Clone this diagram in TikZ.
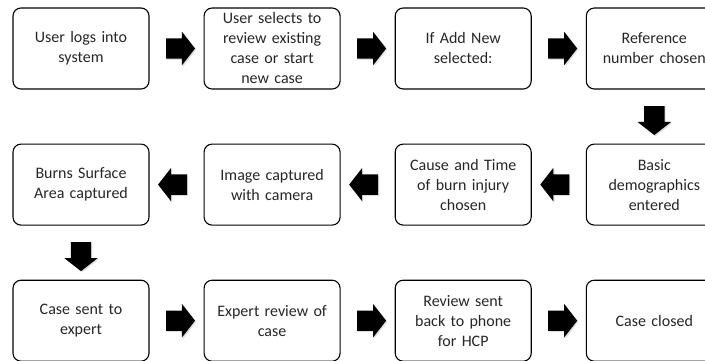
\documentclass[tikz,border=0pt]{standalone}
\usepackage{fontspec}
\setmainfont{Carlito}
\usetikzlibrary{positioning}
\usetikzlibrary{calc}
\usetikzlibrary{shapes.arrows,shadows}

\begin{document}
\begin{tikzpicture}[x=1pt,y=1pt,node distance=54pt,
  stepbox/.style={draw, line width=1.1pt, rounded corners=8pt, minimum width=136pt, minimum height=81pt, text width=132pt, align=center, inner sep=0pt, font=\boxfont},
  blockarrow/.style={single arrow, fill=black, draw=none, minimum height=29pt, minimum width=33pt, single arrow head extend=6.5pt, single arrow tip angle=104, inner xsep=0pt, inner ysep=10pt, drop shadow={shadow xshift=1.2pt, shadow yshift=-1.2pt, opacity=0.25}},
  downarrow/.style={blockarrow, shape border rotate=270, inner xsep=10pt, inner ysep=0pt}]

\def\boxfont{\fontsize{16}{20}\selectfont\color{black!85}}

\useasboundingbox (0,0) rectangle (705,360);
\clip (0,0) rectangle (705,360);

% first row
\node[stepbox] (S1) at (81,311.5) {User logs into\\system};
\node[stepbox, right=of S1] (S2) {User selects to\\review existing\\case or start\\new case};
\node[stepbox, right=of S2] (S3) {If Add New\\selected:};
\node[stepbox, right=of S3] (S4) {Reference\\number chosen};

% second row, right to left
\node[stepbox, below=of S4] (S5) {Basic\\demographics\\entered};
\node[stepbox, left=of S5] (S6) {Cause and Time\\of burn injury\\chosen};
\node[stepbox, left=of S6] (S7) {Image captured\\with camera};
\node[stepbox, left=of S7] (S8) {Burns Surface\\Area captured};

% third row
\node[stepbox, below=of S8] (S9) {Case sent to\\expert};
\node[stepbox, right=of S9] (S10) {Expert review of\\case};
\node[stepbox, right=of S10] (S11) {Review sent\\back to phone\\for HCP};
\node[stepbox, right=of S11] (S12) {Case closed};

\node[blockarrow] (A1) at ($(S1.east)!0.5!(S2.west)$) {};
\node[blockarrow] (A2) at ($(S2.east)!0.5!(S3.west)$) {};
\node[blockarrow] (A3) at ($(S3.east)!0.5!(S4.west)$) {};
\node[downarrow] (A4) at ($(S4.south)!0.5!(S5.north)$) {};
\node[blockarrow, shape border rotate=180] (A5) at ($(S5.west)!0.5!(S6.east)$) {};
\node[blockarrow, shape border rotate=180] (A6) at ($(S6.west)!0.5!(S7.east)$) {};
\node[blockarrow, shape border rotate=180] (A7) at ($(S7.west)!0.5!(S8.east)$) {};
\node[downarrow] (A8) at ($(S8.south)!0.5!(S9.north)$) {};
\node[blockarrow] (A9) at ($(S9.east)!0.5!(S10.west)$) {};
\node[blockarrow] (A10) at ($(S10.east)!0.5!(S11.west)$) {};
\node[blockarrow] (A11) at ($(S11.east)!0.5!(S12.west)$) {};
\end{tikzpicture}
\end{document}
